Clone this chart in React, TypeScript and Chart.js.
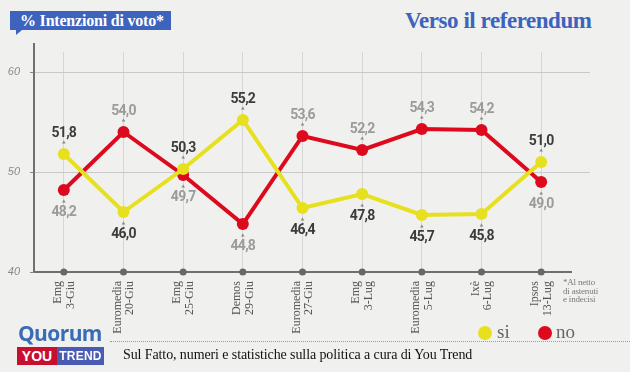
import React, { useEffect, useRef } from "react";
import { Chart, registerables } from "chart.js";

Chart.register(...registerables);

const pollsters = ["Emg", "Euromedia", "Emg", "Demos", "Euromedia", "Emg", "Euromedia", "Ixè", "Ipsos"];
const dates = ["3-Giu", "20-Giu", "25-Giu", "29-Giu", "27-Giu", "3-Lug", "5-Lug", "6-Lug", "13-Lug"];
const siValues = [51.8, 46.0, 50.3, 55.2, 46.4, 47.8, 45.7, 45.8, 51.0];
const noValues = [48.2, 54.0, 49.7, 44.8, 53.6, 52.2, 54.3, 54.2, 49.0];
const yTicks = [40, 50, 60];

const YELLOW = "#e6e01f";
const RED = "#dc0a1c";
const BLUE = "#3d63bd";

const decorPlugin = {
  id: "decor",
  beforeDatasetsDraw(chart: any) {
    const { ctx, chartArea, scales } = chart;
    const y = scales.y;
    ctx.save();
    ctx.strokeStyle = "#c9c9c9";
    ctx.lineWidth = 1;
    yTicks.forEach((v) => {
      if (v === 40) return;
      const py = Math.round(y.getPixelForValue(v)) + 0.5;
      ctx.beginPath();
      ctx.moveTo(chartArea.left, py);
      ctx.lineTo(590, py);
      ctx.stroke();
    });
    ctx.strokeStyle = "#8a8a8a";
    yTicks.forEach((v) => {
      const py = Math.round(y.getPixelForValue(v)) + 0.5;
      ctx.beginPath();
      ctx.moveTo(chartArea.left - 4, py);
      ctx.lineTo(chartArea.left, py);
      ctx.stroke();
    });
    ctx.strokeStyle = "#707070";
    ctx.lineWidth = 2;
    ctx.beginPath();
    ctx.moveTo(chartArea.left, chartArea.top - 9);
    ctx.lineTo(chartArea.left, chartArea.bottom);
    ctx.stroke();
    ctx.restore();
  },
  afterDatasetsDraw(chart: any) {
    const { ctx, chartArea, scales } = chart;
    const x = scales.x;
    const y = scales.y;
    ctx.save();
    ctx.fillStyle = "#686868";
    pollsters.forEach((_, i) => {
      const px = x.getPixelForValue(i);
      ctx.beginPath();
      ctx.arc(px, chartArea.bottom, 3.5, 0, Math.PI * 2);
      ctx.fill();
    });
    ctx.font = "bold 14px Roboto, 'Liberation Sans', sans-serif";
    try {
      (ctx as any).letterSpacing = "-0.7px";
    } catch (e) {}
    ctx.textAlign = "center";
    ctx.textBaseline = "middle";
    const drawLabel = (v: number, other: number, i: number, color: string) => {
      const px = x.getPixelForValue(i);
      const py = y.getPixelForValue(v);
      const above = v > other;
      const ly = above ? py - 21 : py + 22;
      const cy = above ? py - 12 : py + 11;
      ctx.fillStyle = color;
      ctx.fillText(v.toFixed(1).replace(".", ","), px, ly);
      ctx.fillStyle = "#8a8a8a";
      ctx.beginPath();
      ctx.moveTo(px - 1.8, cy + 1.5);
      ctx.lineTo(px + 1.8, cy + 1.5);
      ctx.lineTo(px, cy - 1.5);
      ctx.closePath();
      ctx.fill();
    };
    siValues.forEach((v, i) => drawLabel(v, noValues[i], i, "#3c3c3c"));
    noValues.forEach((v, i) => drawLabel(v, siValues[i], i, "#9b9b9b"));
    ctx.restore();
  },
};

function PollChart() {
  const ref = useRef<HTMLCanvasElement | null>(null);
  useEffect(() => {
    if (!ref.current) return;
    const chart = new Chart(ref.current, {
      type: "line",
      data: {
        labels: pollsters.map((p, i) => [p, dates[i]]),
        datasets: [
          {
            label: "si",
            data: siValues,
            borderColor: YELLOW,
            backgroundColor: YELLOW,
            borderWidth: 4,
            pointRadius: 6,
            pointBorderWidth: 0,
            pointBackgroundColor: YELLOW,
            tension: 0,
          },
          {
            label: "no",
            data: noValues,
            borderColor: RED,
            backgroundColor: RED,
            borderWidth: 4,
            pointRadius: 6,
            pointBorderWidth: 0,
            pointBackgroundColor: RED,
            tension: 0,
          },
        ],
      },
      options: {
        responsive: false,
        animation: false,
        devicePixelRatio: 1,
        layout: { padding: { left: 0, right: 59, top: 52, bottom: 0 } },
        plugins: { legend: { display: false }, tooltip: { enabled: false } },
        scales: {
          x: {
            type: "category",
            offset: true,
            grid: { display: true, offset: false, color: "#d6d6d6", lineWidth: 1, drawTicks: false },
            border: { display: true, color: "#6f6f6f", width: 2 },
            ticks: {
              minRotation: 90,
              maxRotation: 90,
              autoSkip: false,
              padding: 9,
              labelOffset: -6,
              color: "#555555",
              font: { family: "'Liberation Serif', 'DejaVu Serif', serif", size: 12, lineHeight: 1.05 },
            },
            afterFit: (scale: any) => {
              scale.height = 100;
            },
          },
          y: {
            min: 40,
            max: 62,
            grid: { display: false },
            border: { display: false },
            afterBuildTicks: (scale: any) => {
              scale.ticks = yTicks.map((v) => ({ value: v }));
            },
            ticks: {
              color: "#8a8a8a",
              padding: 6,
              font: { family: "'Liberation Sans', Arial, sans-serif", size: 11, style: "italic" },
            },
            afterFit: (scale: any) => {
              scale.width = 34;
            },
          },
        },
      },
      plugins: [decorPlugin],
    } as any);
    return () => chart.destroy();
  }, []);
  return <canvas ref={ref} width={630} height={372} style={{ position: "absolute", left: 0, top: 0 }} />;
}

export default function App() {
  const serif = "'Liberation Serif', 'DejaVu Serif', serif";
  return (
    <div
      style={{
        position: "fixed",
        left: 0,
        top: 0,
        width: 630,
        height: 372,
        background: "#f0f0ee",
        overflow: "hidden",
      }}
    >
      <div
        style={{
          position: "absolute",
          left: 10,
          top: 11,
          width: 161,
          height: 19,
          background: BLUE,
          color: "#fff",
          fontFamily: serif,
          fontWeight: "bold",
          fontSize: 16,
          lineHeight: "19px",
          paddingLeft: 10,
          boxSizing: "border-box",
          letterSpacing: -0.2,
          whiteSpace: "nowrap",
        }}
      >
        % Intenzioni di voto*
      </div>
      <div
        style={{
          position: "absolute",
          left: 16,
          top: 30,
          width: 0,
          height: 0,
          borderLeft: "6px solid " + BLUE,
          borderBottom: "5px solid transparent",
        }}
      />
      <div
        style={{
          position: "absolute",
          left: 405,
          top: 8,
          color: BLUE,
          fontFamily: serif,
          fontWeight: "bold",
          fontSize: 23,
          letterSpacing: -0.45,
          whiteSpace: "nowrap",
        }}
      >
        Verso il referendum
      </div>
      <PollChart />
      <div
        style={{
          position: "absolute",
          left: 563,
          top: 278,
          color: "#7a7a7a",
          fontFamily: serif,
          fontSize: 9,
          lineHeight: "8.5px",
          whiteSpace: "nowrap",
          letterSpacing: -0.2,
        }}
      >
        *Al netto
        <br />
        di astenuti
        <br />e indecisi
      </div>
      <div style={{ position: "absolute", left: 478, top: 326, width: 14, height: 14, borderRadius: 7, background: YELLOW }} />
      <div style={{ position: "absolute", left: 497, top: 321, color: "#666", fontFamily: serif, fontSize: 19 }}>si</div>
      <div style={{ position: "absolute", left: 538, top: 326, width: 14, height: 14, borderRadius: 7, background: RED }} />
      <div style={{ position: "absolute", left: 556, top: 321, color: "#666", fontFamily: serif, fontSize: 19 }}>no</div>
      <div style={{ position: "absolute", left: 110, top: 341, width: 520, borderTop: "1px dotted #9a9a9a" }} />
      <div
        style={{
          position: "absolute",
          left: 18,
          top: 319,
          color: "#3a6cb6",
          fontFamily: "'Open Sans', 'Liberation Sans', sans-serif",
          fontWeight: "bold",
          fontSize: 21,
          letterSpacing: -0.6,
        }}
      >
        Quorum
      </div>
      <div
        style={{
          position: "absolute",
          left: 17,
          top: 347,
          width: 40,
          height: 18,
          background: "#c8102e",
          color: "#fff",
          fontFamily: "'Liberation Sans', sans-serif",
          fontWeight: "bold",
          fontSize: 14,
          lineHeight: "18px",
          textAlign: "center",
        }}
      >
        YOU
      </div>
      <div
        style={{
          position: "absolute",
          left: 57,
          top: 347,
          width: 47,
          height: 18,
          background: "#4a5bb3",
          color: "#fff",
          fontFamily: "'Liberation Sans', sans-serif",
          fontWeight: "bold",
          fontSize: 12,
          lineHeight: "18px",
          textAlign: "center",
          letterSpacing: 0.2,
        }}
      >
        TREND
      </div>
      <div
        style={{
          position: "absolute",
          left: 123,
          top: 347,
          color: "#111",
          fontFamily: serif,
          fontSize: 14,
          whiteSpace: "nowrap",
          letterSpacing: -0.1,
        }}
      >
        Sul Fatto, numeri e statistiche sulla politica a cura di You Trend
      </div>
    </div>
  );
}
